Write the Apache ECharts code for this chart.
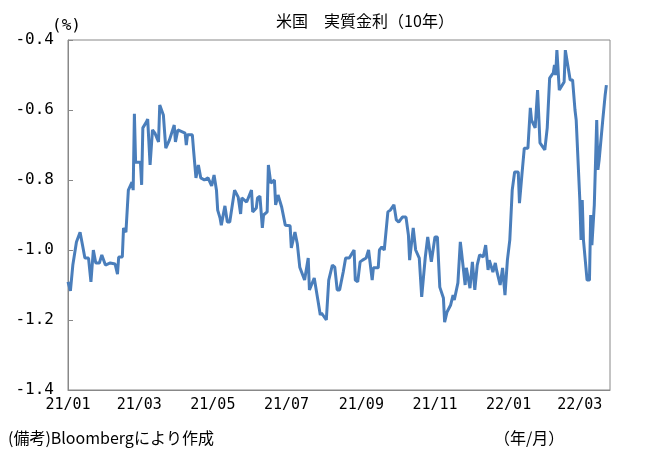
<!DOCTYPE html>
<html>
<head>
<meta charset="utf-8">
<script src="https://cdn.jsdelivr.net/npm/echarts@6/dist/echarts.min.js"></script>
<style>
html, body { margin: 0; padding: 0; background: #fff; }
#Chart { width: 647px; height: 462px; }
</style>
</head>
<body>
<div id="Chart"></div>
<script>
// 2021/01/01 からの経過日数
const days = [0,2,4,7,10,12,14,17,19,21,23,26,28,31,35,39,41,42,45,46,48,50,53,54,55,56,60,61,62,65,66,68,70,72,75,76,79,81,84,88,89,91,97,98,99,103,104,106,108,110,113,116,119,121,123,124,126,127,128,130,132,134,138,141,143,144,148,152,153,156,157,159,161,162,165,166,168,171,172,174,177,180,184,185,188,190,192,196,199,200,204,207,209,210,214,216,219,221,223,225,228,230,233,237,238,240,242,244,247,249,252,253,257,258,260,262,265,267,270,272,274,277,280,282,283,286,288,291,293,296,298,301,302,304,306,308,311,312,314,317,319,320,323,325,326,329,330,333,335,337,339,341,344,346,348,349,352,354,355,358,360,362,364,366,368,370,373,374,376,378,381,383,384,387,389,391,395,397,399,402,403,404,405,407,411,412,413,416,418,420,421,424,425,426,427,430,432,433,434,436,438,439,440,443,445,446];
// 実質金利（%）
const rates = [-1.091,-1.117,-1.043,-0.977,-0.949,-0.986,-1.023,-1.023,-1.091,-1.000,-1.037,-1.037,-1.014,-1.043,-1.037,-1.040,-1.069,-1.020,-1.020,-0.937,-0.949,-0.829,-0.806,-0.829,-0.611,-0.749,-0.749,-0.814,-0.651,-0.634,-0.626,-0.757,-0.657,-0.666,-0.691,-0.586,-0.614,-0.709,-0.686,-0.643,-0.691,-0.657,-0.666,-0.700,-0.671,-0.671,-0.714,-0.794,-0.757,-0.794,-0.800,-0.794,-0.817,-0.786,-0.829,-0.886,-0.909,-0.929,-0.931,-0.874,-0.920,-0.920,-0.829,-0.849,-0.897,-0.851,-0.863,-0.829,-0.891,-0.880,-0.851,-0.846,-0.937,-0.900,-0.891,-0.757,-0.809,-0.800,-0.871,-0.843,-0.877,-0.929,-0.931,-0.994,-0.949,-0.983,-1.049,-1.086,-1.023,-1.114,-1.080,-1.143,-1.186,-1.180,-1.200,-1.086,-1.043,-1.049,-1.114,-1.114,-1.063,-1.023,-1.023,-1.000,-1.086,-1.091,-1.034,-1.029,-1.023,-1.000,-1.086,-1.051,-1.051,-1.000,-0.991,-1.000,-0.891,-0.886,-0.871,-0.914,-0.920,-0.906,-0.906,-0.957,-1.029,-0.937,-1.000,-1.023,-1.134,-1.020,-0.963,-1.034,-1.037,-0.963,-0.963,-1.106,-1.137,-1.206,-1.177,-1.157,-1.129,-1.143,-1.094,-0.977,-1.006,-1.100,-1.051,-1.109,-1.034,-1.114,-1.043,-1.014,-1.020,-0.986,-1.057,-1.029,-1.063,-1.037,-1.057,-1.100,-1.051,-1.129,-1.029,-0.971,-0.829,-0.777,-0.777,-0.866,-0.786,-0.709,-0.709,-0.594,-0.629,-0.651,-0.543,-0.694,-0.714,-0.651,-0.509,-0.494,-0.471,-0.500,-0.429,-0.543,-0.520,-0.429,-0.434,-0.514,-0.514,-0.600,-0.629,-0.857,-0.971,-0.857,-0.971,-1.086,-1.086,-0.900,-0.986,-0.871,-0.629,-0.771,-0.743,-0.629,-0.557,-0.529];
// 目盛（2か月ごと）
const tickDays = [0,59,120,181,243,304,365,424];
const tickLabels = ['21/01','21/03','21/05','21/07','21/09','21/11','22/01','22/03'];

const font = '"DejaVu Sans Mono", "Noto Sans CJK JP", monospace';
const jpFont = '"Noto Sans CJK JP", sans-serif';
let myChart = echarts.init(document.getElementById('Chart'));
myChart.setOption({
    animation: false,
    title: {
        text: '米国　実質金利（10年）',
        left: 360, top: 8, textAlign: 'center',
        textStyle: { fontFamily: jpFont, fontSize: 16, fontWeight: 'normal', color: '#000' }
    },
    graphic: [
        { type: 'text', left: 52, top: 18, style: { text: '(%)', font: '16px ' + font, fill: '#000' } },
        { type: 'text', left: 8, top: 430, style: { text: '(備考)Bloombergにより作成', font: '16px ' + jpFont, fill: '#000' } },
        { type: 'text', left: 494, top: 430, style: { text: '（年/月）', font: '16px ' + jpFont, fill: '#000' } }
    ],
    grid: { left: 68, right: 37, top: 40, bottom: 72, show: true, borderColor: '#888', borderWidth: 1 },
    xAxis: {
        type: 'value', min: 0, max: 449,
        axisLine: { lineStyle: { color: '#888' } },
        axisTick: { show: false },
        splitLine: { show: false },
        axisLabel: {
            customValues: tickDays,
            formatter: v => tickLabels[tickDays.indexOf(v)] || '',
            fontFamily: font, fontSize: 15, color: '#000', margin: 8
        }
    },
    yAxis: {
        type: 'value', min: -1.4, max: -0.4, interval: 0.2,
        axisLine: { show: true, lineStyle: { color: '#888' } },
        axisTick: { show: true, inside: true, length: 5, lineStyle: { color: '#888' } },
        splitLine: { show: false },
        axisLabel: { formatter: v => v.toFixed(1), fontFamily: font, fontSize: 16, color: '#000', margin: 14 }
    },
    series: [{
        type: 'line',
        data: days.map((d, i) => [d, rates[i]]),
        symbol: 'none',
        lineStyle: { color: '#4a7ebb', width: 3 }
    }]
});
</script>
</body>
</html>
